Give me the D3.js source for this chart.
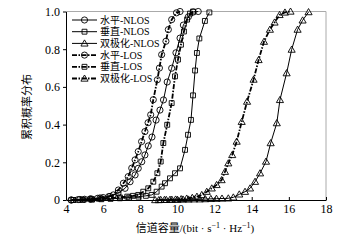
<!DOCTYPE html>
<html><head><meta charset="utf-8">
<script src="https://cdn.jsdelivr.net/npm/d3@7"></script>
<style>body{margin:0;background:#fff}svg{display:block}</style>
</head><body>
<script>
const seriesNames = ["水平-NLOS","垂直-NLOS","双极化-NLOS","水平-LOS","垂直-LOS","双极化-LOS"];
const hNlosX = [4.27,4.75,5.29,5.83,6.37,6.8,7.18,7.45,7.72,7.89,8.08,8.25,8.43,8.63,8.85,9.06,9.25,9.45,9.69,9.92,10.14,10.32,10.59,10.85,11.12];
const hNlosP = [0,0.003,0.005,0.011,0.019,0.037,0.062,0.097,0.133,0.168,0.203,0.239,0.287,0.334,0.424,0.477,0.531,0.626,0.699,0.781,0.859,0.928,0.972,0.997,1.0];
const vNlosX = [4.4,4.9,5.4,5.9,6.4,6.9,7.4,7.9,8.3,8.61,8.88,9.15,9.33,9.6,9.87,10.14,10.41,10.57,10.73,10.84,10.95,11.05,11.18,11.48,11.72];
const vNlosP = [0,0.001,0.002,0.004,0.006,0.009,0.013,0.018,0.022,0.027,0.044,0.071,0.089,0.115,0.142,0.168,0.266,0.346,0.425,0.555,0.687,0.78,0.857,0.95,0.995];
const dNlosX = [8.8,9.1,9.4,9.7,10.0,10.3,10.6,10.9,11.2,11.5,11.8,12.1,12.4,12.74,13.01,13.33,13.64,13.91,14.18,14.45,14.77,15.02,15.35,15.52,15.88,16.15,16.47,16.74,17.06];
const dNlosP = [0,0.001,0.001,0.002,0.002,0.003,0.003,0.004,0.004,0.005,0.006,0.007,0.008,0.009,0.014,0.03,0.044,0.062,0.097,0.142,0.204,0.302,0.408,0.531,0.673,0.798,0.904,0.953,0.997];
const hLosX = [4.3,4.65,5.0,5.35,5.7,6.0,6.3,6.55,6.82,7.09,7.35,7.54,7.72,7.89,8.07,8.25,8.42,8.56,8.7,8.92,9.03,9.15,9.38,9.51,9.69,9.95,10.14];
const hLosP = [0,0.002,0.004,0.006,0.009,0.013,0.018,0.027,0.053,0.089,0.124,0.169,0.213,0.257,0.31,0.363,0.41,0.452,0.532,0.638,0.7,0.771,0.842,0.904,0.957,0.993,1.0];
const vLosX = [4.4,4.9,5.4,5.9,6.4,6.9,7.3,7.6,7.89,8.16,8.43,8.7,8.92,9.1,9.24,9.45,9.69,9.87,10.03,10.19,10.35,10.52,10.68,10.84];
const vLosP = [0,0.002,0.004,0.007,0.01,0.014,0.018,0.022,0.027,0.044,0.062,0.097,0.142,0.204,0.302,0.399,0.514,0.656,0.745,0.824,0.894,0.957,0.989,1.0];
const dLosX = [9.0,9.3,9.6,9.9,10.2,10.5,10.8,11.05,11.31,11.58,11.85,12.11,12.38,12.56,12.74,12.95,13.19,13.46,13.75,14.1,14.37,14.66,14.98,15.23,15.5,15.79,16.09];
const dLosP = [0,0.001,0.002,0.003,0.005,0.008,0.012,0.018,0.027,0.044,0.062,0.08,0.106,0.15,0.195,0.239,0.31,0.415,0.522,0.639,0.743,0.84,0.904,0.942,0.982,0.995,1.0];
const xTicks = [4,6,8,10,12,14,16,18];
const yTicks = [0,0.2,0.4,0.6,0.8,1.0];
const yTickLabels = ["0","0.2","0.4","0.6","0.8","1.0"];

const W=352,H=244;
const svg=d3.select("body").append("svg").attr("width",W).attr("height",H);
const x=d3.scaleLinear().domain([4,18]).range([66,326]);
const y=d3.scaleLinear().domain([0,1]).range([200,11.5]);
const serif="'Liberation Serif','Times New Roman',serif";
const cjk="'Liberation Serif','Noto Sans CJK SC',serif";
const DASH="5,1.5,1.5,1.5";

// frame
svg.append("line").attr("x1",66).attr("x2",326).attr("y1",11.5).attr("y2",11.5).attr("stroke","#aaa").attr("stroke-width",1);
svg.append("line").attr("x1",326).attr("x2",326).attr("y1",11.5).attr("y2",200).attr("stroke","#aaa").attr("stroke-width",1);

const xAxis=svg.append("g").attr("transform","translate(0,200)")
  .call(d3.axisBottom(x).tickValues(xTicks).tickSize(-3).tickSizeOuter(0).tickPadding(6));
xAxis.select(".domain").attr("stroke","#000");
xAxis.selectAll("text").attr("font-family",serif).attr("font-size",12).attr("fill","#000").attr("dy","0.62em");
const yAxis=svg.append("g").attr("transform","translate(66,0)")
  .call(d3.axisLeft(y).tickValues(yTicks).tickFormat((d,i)=>yTickLabels[i]).tickSize(3).tickSizeOuter(0).tickPadding(3));
yAxis.select(".domain").attr("stroke","#000");
yAxis.selectAll("text").attr("font-family",serif).attr("font-size",12).attr("fill","#000");

const series=[
 {name:seriesNames[0],xs:hNlosX,ps:hNlosP,m:"circle",dash:null},
 {name:seriesNames[1],xs:vNlosX,ps:vNlosP,m:"square",dash:null},
 {name:seriesNames[2],xs:dNlosX,ps:dNlosP,m:"triangle",dash:null},
 {name:seriesNames[3],xs:hLosX,ps:hLosP,m:"circle",dash:DASH},
 {name:seriesNames[4],xs:vLosX,ps:vLosP,m:"square",dash:DASH},
 {name:seriesNames[5],xs:dLosX,ps:dLosP,m:"triangle",dash:DASH}
];
const sym={circle:d3.symbol().type(d3.symbolCircle).size(30),
  square:d3.symbol().type(d3.symbolSquare).size(24),
  triangle:d3.symbol().type(d3.symbolTriangle).size(22)};
function marker(g,type,cx,cy){
  g.append("path").attr("d",sym[type]()).attr("transform",`translate(${cx},${cy+(type==="triangle"?0.6:0)})`)
   .attr("fill","none").attr("stroke","#000").attr("stroke-width",0.9);
}
const line=d3.line().x(d=>x(d[0])).y(d=>y(d[1]));
series.forEach(s=>{
  const pts=s.xs.map((v,i)=>[v,s.ps[i]]);
  const g=svg.append("g");
  pts.forEach(p=>marker(g,s.m,x(p[0]),y(p[1])));
  g.append("path").datum(pts).attr("d",line).attr("fill","none").attr("stroke","#000")
   .attr("stroke-width",s.dash?1.8:1).attr("stroke-dasharray",s.dash);
});

// legend
const lg=svg.append("g");
series.forEach((s,i)=>{
  const yy=20+i*11.7;
  lg.append("line").attr("x1",72).attr("x2",97).attr("y1",yy).attr("y2",yy).attr("stroke","#000")
    .attr("stroke-width",s.dash?1.8:1).attr("stroke-dasharray",s.dash);
  marker(lg,s.m,84.5,yy);
  lg.append("text").attr("x",100).attr("y",yy+3.5).attr("font-family",cjk).attr("font-size",10).text(s.name);
});

// axis titles
svg.append("text").attr("transform","translate(31,107) rotate(-90)").attr("text-anchor","middle")
  .attr("font-family",cjk).attr("font-size",11).text("累积概率分布");
const xl=svg.append("text").attr("x",195).attr("y",232).attr("text-anchor","middle").attr("font-family",cjk).attr("font-size",11);
xl.append("tspan").text("信道容量/(bit · s");
xl.append("tspan").attr("dy",-4).attr("font-size",8).text("−1");
xl.append("tspan").attr("dy",4).text(" · Hz");
xl.append("tspan").attr("dy",-4).attr("font-size",8).text("−1");
xl.append("tspan").attr("dy",4).text(")");
</script>
</body></html>
